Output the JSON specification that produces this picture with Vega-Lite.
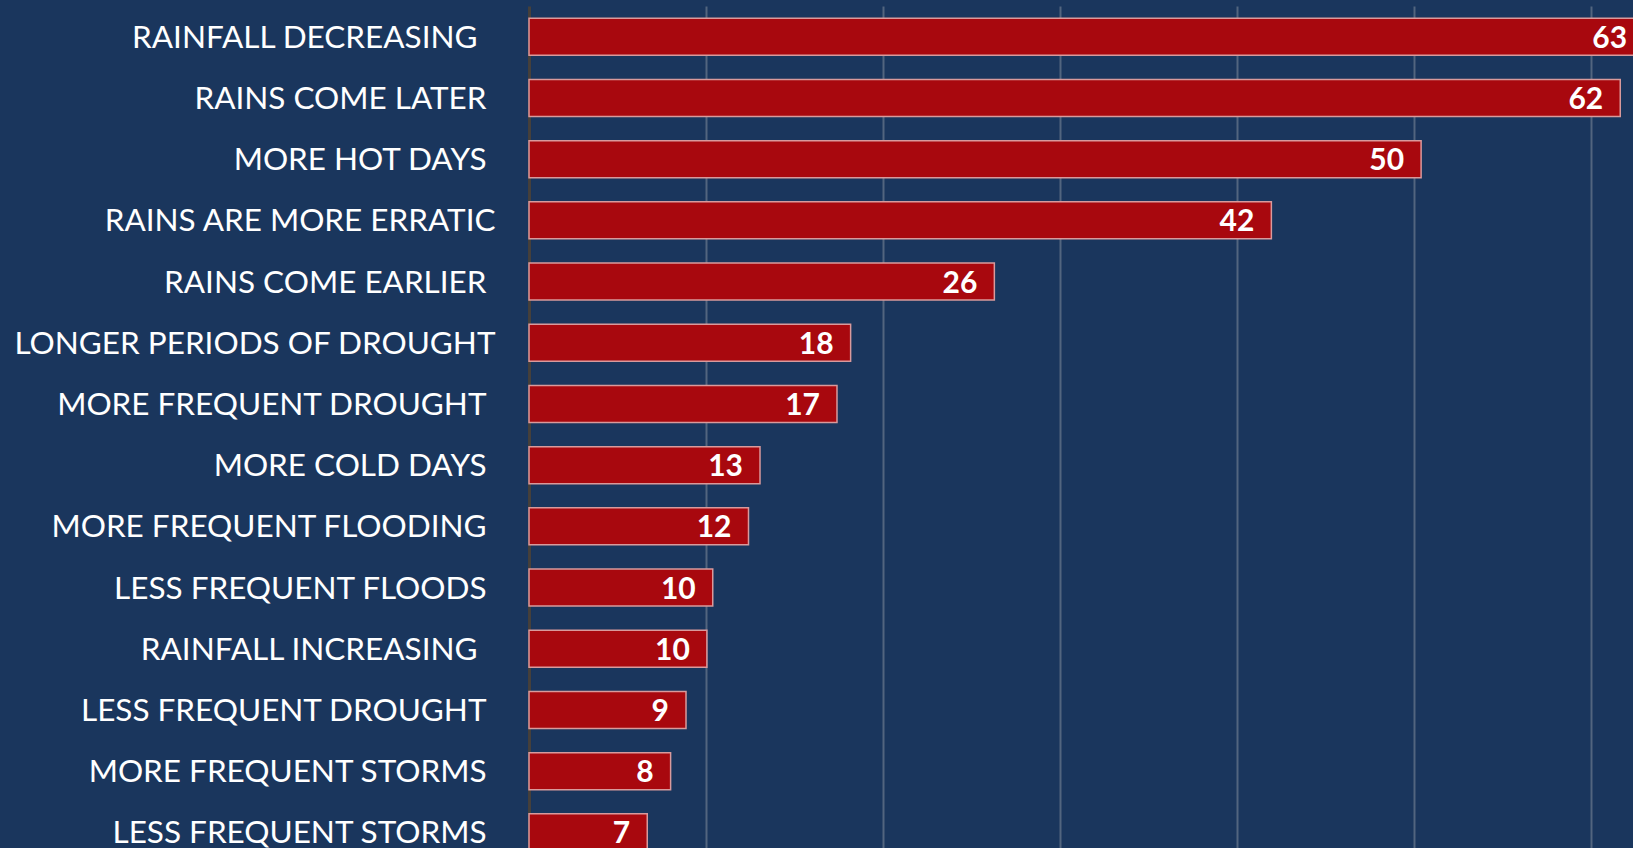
{
  "$schema": "https://vega.github.io/schema/vega-lite/v6.json",
  "autosize": {"type": "none"},
  "padding": {"left": 529, "top": 6, "right": 0, "bottom": 0},
  "width": 1104,
  "height": {"step": 61.2},
  "background": "#1a365d",
  "config": {
    "view": {"stroke": null},
    "font": "Lato"
  },
  "data": {
    "values": [
      {"cause": "RAINFALL DECREASING", "value": 63.0},
      {"cause": "RAINS COME LATER", "value": 61.65},
      {"cause": "MORE HOT DAYS", "value": 50.4},
      {"cause": "RAINS ARE MORE ERRATIC", "value": 41.94},
      {"cause": "RAINS COME EARLIER", "value": 26.29},
      {"cause": "LONGER PERIODS OF DROUGHT", "value": 18.17},
      {"cause": "MORE FREQUENT DROUGHT", "value": 17.4},
      {"cause": "MORE COLD DAYS", "value": 13.05},
      {"cause": "MORE FREQUENT FLOODING", "value": 12.4},
      {"cause": "LESS FREQUENT FLOODS", "value": 10.38},
      {"cause": "RAINFALL INCREASING", "value": 10.05},
      {"cause": "LESS FREQUENT DROUGHT", "value": 8.87},
      {"cause": "MORE FREQUENT STORMS", "value": 8.0},
      {"cause": "LESS FREQUENT STORMS", "value": 6.68}
    ]
  },
  "encoding": {
    "y": {
      "field": "cause",
      "type": "nominal",
      "sort": null,
      "scale": {"paddingInner": 0.395, "paddingOuter": 0.2},
      "axis": {
        "title": null,
        "ticks": false,
        "domain": true,
        "domainColor": "#45403c",
        "domainWidth": 3,
        "labelColor": "#ffffff",
        "labelFont": "Lato",
        "labelFontSize": 31.5,
        "labelOffset": 2,
        "labelPadding": {
          "condition": [
            {"test": "datum.label === 'RAINS ARE MORE ERRATIC' || datum.label === 'LONGER PERIODS OF DROUGHT'", "value": 34},
            {"test": "datum.label === 'RAINFALL DECREASING' || datum.label === 'RAINFALL INCREASING'", "value": 52}
          ],
          "value": 43
        },
        "labelLimit": 600
      }
    },
    "x": {
      "field": "value",
      "type": "quantitative",
      "scale": {"domain": [0, 62.37], "nice": false, "zero": true},
      "axis": {
        "title": null,
        "labels": false,
        "ticks": false,
        "domain": false,
        "grid": true,
        "values": [10, 20, 30, 40, 50, 60],
        "gridColor": "#52657f",
        "gridWidth": 2
      }
    }
  },
  "layer": [
    {
      "mark": {"type": "bar", "fill": "#a8080e", "stroke": "#d99a9c", "strokeWidth": 1.5}
    },
    {
      "mark": {
        "type": "text",
        "align": "right",
        "baseline": "middle",
        "dx": -17,
        "dy": 2,
        "color": "#ffffff",
        "font": "Lato",
        "fontWeight": "bold",
        "fontSize": 30
      },
      "encoding": {
        "text": {"field": "value", "type": "quantitative", "format": ".0f"}
      }
    }
  ]
}
